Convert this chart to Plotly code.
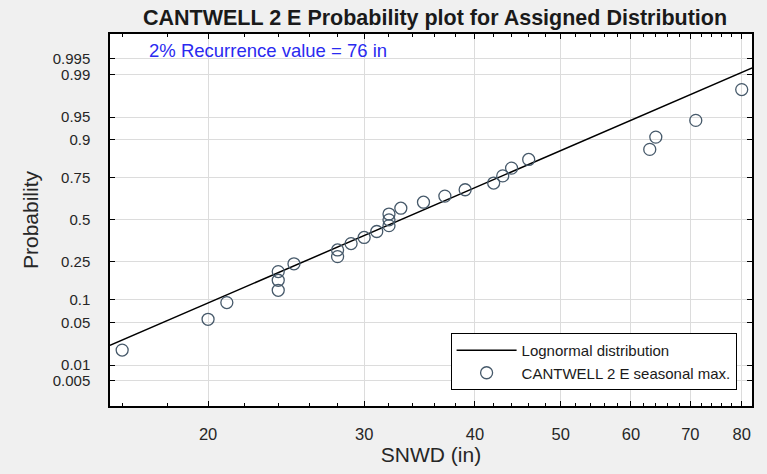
from statistics import NormalDist
import plotly.graph_objects as go

# ---- data ----
snwd = [16, 20, 21, 24, 24, 24, 25, 28, 28, 29, 30, 31, 32, 32, 32, 33,
        35, 37, 39, 42, 43, 44, 46, 63, 64, 71, 80]
prob = [0.0185, 0.0556, 0.0926, 0.1296, 0.1667, 0.2037, 0.2407, 0.2778,
        0.3148, 0.3519, 0.3889, 0.4259, 0.4630, 0.5000, 0.5370, 0.5741,
        0.6111, 0.6481, 0.6852, 0.7222, 0.7593, 0.7963, 0.8333, 0.8704,
        0.9074, 0.9444, 0.9815]

fit_x = [15.5, 82.2]
fit_p = [0.0222, 0.9925]

y_ticks = [0.005, 0.01, 0.05, 0.1, 0.25, 0.5, 0.75, 0.9, 0.95, 0.99, 0.995]
y_tick_labels = ["0.005", "0.01", "0.05", "0.1", "0.25", "0.5", "0.75",
                 "0.9", "0.95", "0.99", "0.995"]
x_ticks = [20, 30, 40, 50, 60, 70, 80]
x_minor = [16, 18, 22, 24, 26, 28, 32, 34, 36, 38, 42, 44, 46, 48, 52, 54,
           56, 58, 62, 64, 66, 68, 72, 74, 76, 78, 82]

title = "CANTWELL 2 E Probability plot for Assigned Distribution"
note = "2% Recurrence value = 76 in"

# probit scale for the probability axis
nd = NormalDist()
probit = lambda ps: [nd.inv_cdf(p) for p in ps]

FONT = "Liberation Sans, Arial, sans-serif"
BG = "#f0f0f0"

fig = go.Figure()
fig.add_trace(go.Scatter(
    x=fit_x, y=probit(fit_p), mode="lines",
    line=dict(color="black", width=1.5),
    name="Lognormal distribution"))
fig.add_trace(go.Scatter(
    x=snwd, y=probit(prob), mode="markers",
    marker=dict(symbol="circle-open", size=12, color="#46596a",
                line=dict(width=1.3)),
    name="CANTWELL 2 E seasonal max."))

fig.update_layout(
    width=767, height=474,
    margin=dict(l=110, r=15, t=34, b=68, autoexpand=False),
    paper_bgcolor=BG, plot_bgcolor="white",
    font=dict(family=FONT, size=16.5, color="#262626"),
    title=dict(text="<b>" + title + "</b>", x=435 / 767, xanchor="center",
               y=1 - 17 / 474, yanchor="middle",
               font=dict(size=21.5, color="#1a1a1a", family=FONT)),
    showlegend=True,
    legend=dict(x=0.976, xanchor="right", y=0.043, yanchor="bottom",
                bgcolor="white", bordercolor="black", borderwidth=1,
                font=dict(size=15, color="#1a1a1a"),
                tracegroupgap=0, itemwidth=60),
    annotations=[dict(text=note, xref="paper", yref="paper",
                      x=(147 - 110) / 642, y=(406 - 51) / 372,
                      xanchor="left", yanchor="middle", showarrow=False,
                      font=dict(size=18.5, color="#2a2af0", family=FONT))],
)

fig.update_xaxes(
    type="log", range=[1.1904, 1.9147],
    tickvals=x_ticks, ticktext=[str(v) for v in x_ticks],
    ticks="inside", ticklen=5, tickcolor="black", ticklabelstandoff=12,
    showline=True, linecolor="black", linewidth=1.5, mirror="allticks",
    showgrid=True, gridcolor="#dcdcdc", gridwidth=1, zeroline=False,
    minor=dict(tickvals=x_minor, ticks="inside", ticklen=3,
               tickcolor="black", showgrid=False),
    title=dict(text="SNWD (in)", font=dict(size=21), standoff=6),
)
fig.update_yaxes(
    range=[-2.981, 2.976],
    tickvals=probit(y_ticks), ticktext=y_tick_labels,
    tickfont=dict(size=15),
    ticks="inside", ticklen=5, tickcolor="black", ticklabelstandoff=15,
    showline=True, linecolor="black", linewidth=1.5, mirror="allticks",
    showgrid=True, gridcolor="#dcdcdc", gridwidth=1, zeroline=False,
    title=dict(text="Probability", font=dict(size=21), standoff=8),
)

fig.write_html(
    "out.html",
    config={"displayModeBar": False},
    post_script="document.body.style.margin='0px';"
                "document.body.style.backgroundColor='" + BG + "';")
